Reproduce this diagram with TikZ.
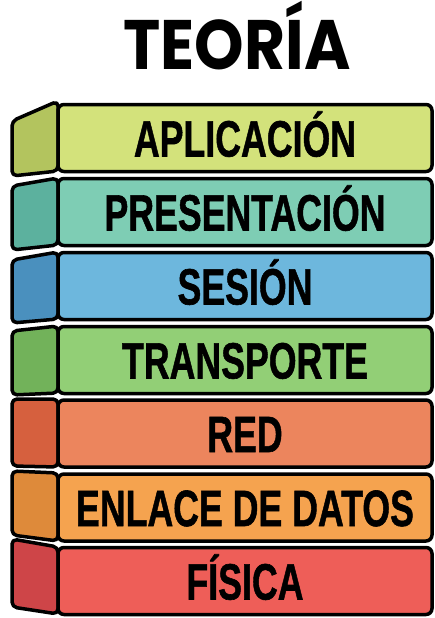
\documentclass[tikz,border=0pt]{standalone}
\usepackage{fontspec}
\usepackage{graphicx}
\newfontfamily\labfont{Liberation Sans}[BoldFont={Liberation Sans Bold}, BoldFeatures={FakeBold=1.2}]
\newfontfamily\titlefont{Poppins}[UprightFont={* Bold}]
\definecolor{apF}{HTML}{D3E27B}\definecolor{apS}{HTML}{B3C45E}
\definecolor{prF}{HTML}{7ECDB4}\definecolor{prS}{HTML}{5CB19E}
\definecolor{seF}{HTML}{6DB7DD}\definecolor{seS}{HTML}{4A90BE}
\definecolor{trF}{HTML}{92CF76}\definecolor{trS}{HTML}{72B25A}
\definecolor{reF}{HTML}{EC855D}\definecolor{reS}{HTML}{D6603E}
\definecolor{enF}{HTML}{F5A34F}\definecolor{enS}{HTML}{DE8A3A}
\definecolor{fiF}{HTML}{EE5E58}\definecolor{fiS}{HTML}{CE4548}
\tikzset{
  front/.style={draw=black, line width=3.5pt, rounded corners=6pt, rectangle,
    minimum width=374pt, minimum height=67pt, inner sep=0pt,
    text height=37pt, text depth=0pt, font=\labfont\fontsize{51}{51}\bfseries},
  sideface/.style={draw=black, line width=3.5pt, rounded corners=5pt, line join=round},
  title/.style={font=\titlefont\fontsize{70}{70}\selectfont, inner sep=0pt}
}
\newcommand{\lbl}[1]{\scalebox{0.70}[1]{#1}}
\begin{document}
\begin{tikzpicture}[x=1pt,y=-1pt]
\useasboundingbox (0,0) rectangle (434,618);
\fill[white] (0,0) rectangle (434,618);
\node[title, anchor=base] (title) at (237,70) {\scalebox{0.9}[1]{TEORÍA}};
% side faces
\draw[sideface, fill=apS] (58,101) -- (12,121) -- (12,176) -- (58,171) -- cycle;
\draw[sideface, fill=prS] (58,178) -- (12,186) -- (12,250) -- (58,245) -- cycle;
\draw[sideface, fill=seS] (58,252) -- (12,260) -- (12,323) -- (58,319) -- cycle;
\draw[sideface, fill=trS] (58,326) -- (12,331) -- (12,395) -- (58,393) -- cycle;
\draw[sideface, fill=reS] (58,399) -- (12,399) -- (12,466) -- (58,467) -- cycle;
\draw[sideface, fill=enS] (58,473) -- (12,471) -- (12,535) -- (58,541) -- cycle;
\draw[sideface, fill=fiS] (58,547) -- (12,539) -- (12,607) -- (58,614) -- cycle;
% front faces
\node[front, fill=apF] (apl) at (245,138) {\lbl{APLICACIÓN}};
\node[front, fill=prF] (pre) at (245,212) {\lbl{PRESENTACIÓN}};
\node[front, fill=seF] (ses) at (245,286) {\lbl{SESIÓN}};
\node[front, fill=trF] (tra) at (245,360) {\lbl{TRANSPORTE}};
\node[front, fill=reF] (red) at (245,433.5) {\lbl{RED}};
\node[front, fill=enF] (enl) at (245,507.5) {\lbl{ENLACE DE DATOS}};
\node[front, fill=fiF] (fis) at (245,581) {\lbl{FÍSICA}};
\end{tikzpicture}
\end{document}
